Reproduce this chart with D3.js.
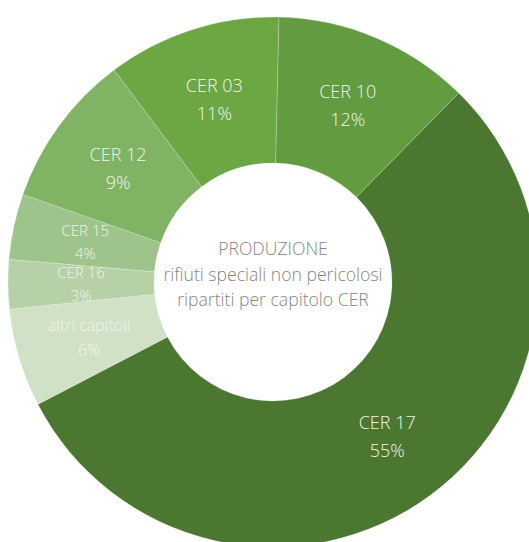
<!DOCTYPE html>
<html><head><meta charset="utf-8">
<script src="https://cdn.jsdelivr.net/npm/d3@7"></script>
<style>body{margin:0;background:#fff}svg{display:block}</style>
</head><body>
<script>
const categories = ["CER 17","altri capitoli","CER 16","CER 15","CER 12","CER 03","CER 10"];
const values = [55, 6, 3, 4, 9.4, 10.6, 12];
const pctLabels = ["55%","6%","3%","4%","9%","11%","12%"];
const colors = ["#4b7730","#d0e1c6","#b6d1a8","#9ec48b","#80b464","#6ca744","#629b40"];
const fontSizes = [18,16,15,15,18,18,18];
const centerLines = ["PRODUZIONE","rifiuti speciali non pericolosi","ripartiti per capitolo CER"];

const W = 529, H = 542;
const cx = 273, cy = 282, R = 265, r = 119;
const svg = d3.select("body").append("svg").attr("width", W).attr("height", H);
const g = svg.append("g").attr("transform", `translate(${cx},${cy})`);

const startA = 44.5 * Math.PI / 180;
const pie = d3.pie().sort(null).value(d => d.v).startAngle(startA).endAngle(startA + 2*Math.PI);
const data = categories.map((c,i)=>({c, v: values[i], p: pctLabels[i], col: colors[i], fs: fontSizes[i]}));
const arcs = pie(data);
const arc = d3.arc().innerRadius(r).outerRadius(R);
const labelArc = d3.arc().innerRadius(192).outerRadius(192);

g.selectAll("path").data(arcs).join("path")
  .attr("d", arc).attr("fill", d => d.data.col)
  .attr("stroke", "rgba(255,255,255,0.35)").attr("stroke-width", 0.6);

const font = "'Open Sans', Lato, sans-serif";
const lab = g.selectAll("g.lab").data(arcs).join("g").attr("class","lab")
  .attr("transform", d => `translate(${labelArc.centroid(d)})`);
lab.append("text").attr("text-anchor","middle").attr("y", d => -d.data.fs*0.4)
  .style("font-family",font).style("font-weight","300").style("font-size", d => d.data.fs + "px")
  .attr("fill","#f1f5ec").text(d => d.data.c);
lab.append("text").attr("text-anchor","middle").attr("y", d => d.data.fs*1.15)
  .style("font-family",font).style("font-weight","300").style("font-size", d => d.data.fs + "px")
  .attr("fill","#f1f5ec").text(d => d.data.p);

g.selectAll("text.center").data(centerLines).join("text").attr("class","center")
  .attr("text-anchor","middle").attr("y", (d,i) => -27 + i*25.5)
  .style("font-family",font).style("font-weight","300").style("font-size","17.6px")
  .attr("fill","#858585").text(d => d);
</script>
</body></html>
